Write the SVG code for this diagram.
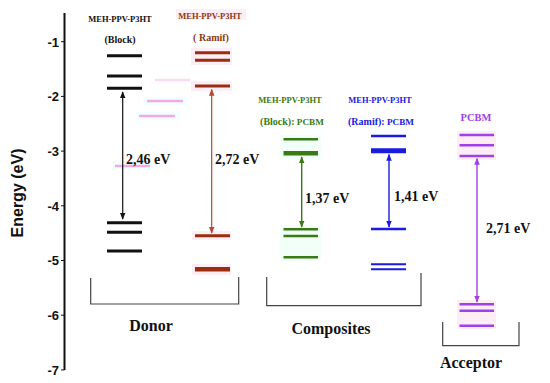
<svg xmlns="http://www.w3.org/2000/svg" width="550" height="383" viewBox="0 0 550 383">
<style>
.ax{stroke:#111;stroke-width:2;fill:none}
.tk{stroke:#111;stroke-width:1}
.tl{font-family:"Liberation Sans",Arial,sans-serif;font-weight:bold;font-size:13px;fill:#111;text-anchor:end}
.t{font-family:"Liberation Serif","Times New Roman",serif;font-weight:bold}
.lbl{font-size:8.5px}
.ev{font-size:14px;fill:#111}
.grp{font-size:16px;fill:#111;text-anchor:middle}
.br{stroke:#444;stroke-width:1.2;fill:none}
.k{stroke:#111}
.r{stroke:#992d10}
.g{stroke:#3a7a12}
.b{stroke:#1a1ae0}
.p{stroke:#a040e8}
.ghost{stroke:#f7a6e6;stroke-width:2.5}
.hp{fill:#fdeef6}
.hg{fill:#f2fff9}
</style>
<defs>
<marker id="ak" viewBox="0 0 10 10" refX="9" refY="5" markerWidth="7" markerHeight="9" orient="auto-start-reverse" markerUnits="userSpaceOnUse"><path d="M0,1 L10,5 L0,9 z" fill="#111"/></marker>
<marker id="ar" viewBox="0 0 10 10" refX="9" refY="5" markerWidth="7" markerHeight="9" orient="auto-start-reverse" markerUnits="userSpaceOnUse"><path d="M0,1 L10,5 L0,9 z" fill="#b5482f"/></marker>
<marker id="ag" viewBox="0 0 10 10" refX="9" refY="5" markerWidth="7" markerHeight="9" orient="auto-start-reverse" markerUnits="userSpaceOnUse"><path d="M0,1 L10,5 L0,9 z" fill="#3a7a12"/></marker>
<marker id="ab" viewBox="0 0 10 10" refX="9" refY="5" markerWidth="7" markerHeight="9" orient="auto-start-reverse" markerUnits="userSpaceOnUse"><path d="M0,1 L10,5 L0,9 z" fill="#1a1ae0"/></marker>
<marker id="ap" viewBox="0 0 10 10" refX="9" refY="5" markerWidth="7" markerHeight="9" orient="auto-start-reverse" markerUnits="userSpaceOnUse"><path d="M0,1 L10,5 L0,9 z" fill="#a040e8"/></marker>
</defs>
<rect width="550" height="383" fill="#fff"/>

<g id="axis">
<line class="ax" x1="64.5" y1="13" x2="64.5" y2="370"/>
<g class="tk">
<line x1="61" y1="41.7" x2="64.5" y2="41.7"/><line x1="61" y1="96.4" x2="64.5" y2="96.4"/>
<line x1="61" y1="151.1" x2="64.5" y2="151.1"/><line x1="61" y1="205.8" x2="64.5" y2="205.8"/>
<line x1="61" y1="260.5" x2="64.5" y2="260.5"/><line x1="61" y1="315.2" x2="64.5" y2="315.2"/>
<line x1="61" y1="369.9" x2="64.5" y2="369.9"/>
</g>
<text class="tl" x="59" y="46.5">-1</text>
<text class="tl" x="59" y="101">-2</text>
<text class="tl" x="59" y="155.8">-3</text>
<text class="tl" x="59" y="210.5">-4</text>
<text class="tl" x="59" y="265.2">-5</text>
<text class="tl" x="59" y="320">-6</text>
<text class="tl" x="59" y="374.6">-7</text>
<text transform="translate(23,193) rotate(-90)" font-family="'Liberation Sans',Arial,sans-serif" font-weight="bold" font-size="16" fill="#111" text-anchor="middle">Energy (eV)</text>
</g>

<g id="ghosts">
<rect x="143" y="97" width="44" height="8" fill="#f0ffff"/>
<rect x="136" y="112" width="44" height="8" fill="#f0ffff"/>
<line class="ghost" x1="147" y1="101" x2="183" y2="101"/>
<line class="ghost" x1="139" y1="116" x2="175" y2="116"/>
<rect x="113" y="161" width="40" height="8" fill="#effffb"/>
<line class="ghost" x1="115" y1="166" x2="150" y2="166"/>
<line class="ghost" x1="155" y1="80" x2="190" y2="80" stroke-width="1.5" opacity="0.4"/>
</g>

<g id="donor-block">
<text class="t lbl" x="120" y="22" fill="#111" text-anchor="middle">MEH-PPV-P3HT</text>
<text class="t" x="120" y="43" font-size="10" fill="#111" text-anchor="middle">(Block)</text>
<g class="k" stroke-width="3">
<line x1="107" y1="55.7" x2="142" y2="55.7"/>
<line x1="107" y1="76" x2="142" y2="76"/>
<line x1="107" y1="88.3" x2="142" y2="88.3"/>
<line x1="107" y1="222.7" x2="142" y2="222.7"/>
<line x1="107" y1="232.3" x2="142" y2="232.3"/>
<line x1="107" y1="251" x2="142" y2="251"/>
</g>
</g>

<g id="donor-ramif">
<rect class="hp" x="176" y="9" width="70" height="11"/>
<rect class="hp" x="191" y="48" width="41" height="17"/>
<rect class="hp" x="191" y="81" width="41" height="10"/>
<rect class="hp" x="192" y="231" width="39" height="9"/>
<rect class="hp" x="192" y="264" width="39" height="11"/>
<text class="t lbl" x="210" y="19" fill="#8b3a10" text-anchor="middle">MEH-PPV-P3HT</text>
<text class="t" x="211" y="41" font-size="10" fill="#8b3a10" text-anchor="middle">( Ramif)</text>
<g class="r">
<line x1="195" y1="52.7" x2="230" y2="52.7" stroke-width="3"/>
<line x1="195" y1="60.3" x2="230" y2="60.3" stroke-width="3"/>
<line x1="195" y1="86" x2="230" y2="86" stroke-width="3"/>
<line x1="195" y1="235.7" x2="230" y2="235.7" stroke-width="3"/>
<line x1="195" y1="269.3" x2="230" y2="269.3" stroke-width="4.5"/>
</g>
</g>

<g id="comp-block">
<rect class="hg" x="280" y="135" width="41" height="24"/>
<rect class="hg" x="280" y="225" width="41" height="36"/>
<text class="t lbl" x="290" y="103" fill="#3a7a12" text-anchor="middle">MEH-PPV-P3HT</text>
<text class="t" x="292" y="125" font-size="9.2" fill="#3a7a12" text-anchor="middle"><tspan font-size="10">(Block):</tspan> PCBM</text>
<g class="g">
<line x1="283.5" y1="139.3" x2="318" y2="139.3" stroke-width="2.5"/>
<line x1="283.5" y1="153.3" x2="318" y2="153.3" stroke-width="4.5"/>
<line x1="283.5" y1="229.3" x2="318" y2="229.3" stroke-width="2.5"/>
<line x1="283.5" y1="236" x2="318" y2="236" stroke-width="2.5"/>
<line x1="283.5" y1="257.3" x2="318" y2="257.3" stroke-width="2.5"/>
</g>
</g>

<g id="comp-ramif">
<text class="t lbl" x="380" y="103" fill="#1a1ae0" text-anchor="middle">MEH-PPV-P3HT</text>
<text class="t" x="381" y="125" font-size="9.2" fill="#1a1ae0" text-anchor="middle"><tspan font-size="10">(Ramif):</tspan> PCBM</text>
<g class="b">
<line x1="371" y1="136" x2="406" y2="136" stroke-width="2.5"/>
<line x1="371" y1="150.7" x2="406" y2="150.7" stroke-width="5"/>
<line x1="371" y1="229" x2="406" y2="229" stroke-width="2.5"/>
<line x1="371" y1="264.3" x2="406" y2="264.3" stroke-width="2"/>
<line x1="371" y1="269.3" x2="406" y2="269.3" stroke-width="2"/>
</g>
</g>

<g id="acceptor">
<rect class="hp" x="457" y="131" width="39" height="29"/>
<rect class="hp" x="457" y="300" width="39" height="29"/>
<text class="t" x="476" y="121" font-size="10.5" fill="#a040e8" text-anchor="middle">PCBM</text>
<g class="p" stroke-width="2.5">
<line x1="459.5" y1="135" x2="494" y2="135"/>
<line x1="459.5" y1="145.3" x2="494" y2="145.3"/>
<line x1="459.5" y1="156" x2="494" y2="156"/>
<line x1="459.5" y1="304.3" x2="494" y2="304.3"/>
<line x1="459.5" y1="310.7" x2="494" y2="310.7"/>
<line x1="459.5" y1="325.7" x2="494" y2="325.7"/>
</g>
</g>

<g id="connectors" fill="none">
<line x1="122.7" y1="92" x2="122.7" y2="219" stroke="#111" stroke-width="1.2" marker-start="url(#ak)" marker-end="url(#ak)"/>
<line x1="211.7" y1="89.5" x2="211.7" y2="233" stroke="#b5482f" stroke-width="1.2" marker-start="url(#ar)" marker-end="url(#ar)"/>
<line x1="301.7" y1="157" x2="301.7" y2="227" stroke="#3a7a12" stroke-width="1.4" marker-start="url(#ag)" marker-end="url(#ag)"/>
<line x1="389" y1="154.5" x2="389" y2="227" stroke="#1a1ae0" stroke-width="1.4" marker-start="url(#ab)" marker-end="url(#ab)"/>
<line x1="477" y1="158.5" x2="477" y2="302" stroke="#a040e8" stroke-width="1.4" marker-start="url(#ap)" marker-end="url(#ap)"/>
</g>

<g id="gap-labels">
<text class="t ev" x="126" y="164">2,46 eV</text>
<text class="t ev" x="215" y="164">2,72 eV</text>
<text class="t ev" x="305" y="203">1,37 eV</text>
<text class="t ev" x="394" y="201">1,41 eV</text>
<text class="t ev" x="486" y="233">2,71 eV</text>
</g>

<g id="brackets">
<path class="br" d="M90.7,278 V304 H238.7 V277"/>
<path class="br" d="M266.7,277 V305.7 H421 V273"/>
<path class="br" d="M442.7,322 V345.7 H519 V322"/>
<text class="t grp" x="151" y="331">Donor</text>
<text class="t grp" x="331" y="334">Composites</text>
<text class="t grp" x="471" y="368">Acceptor</text>
</g>
</svg>
